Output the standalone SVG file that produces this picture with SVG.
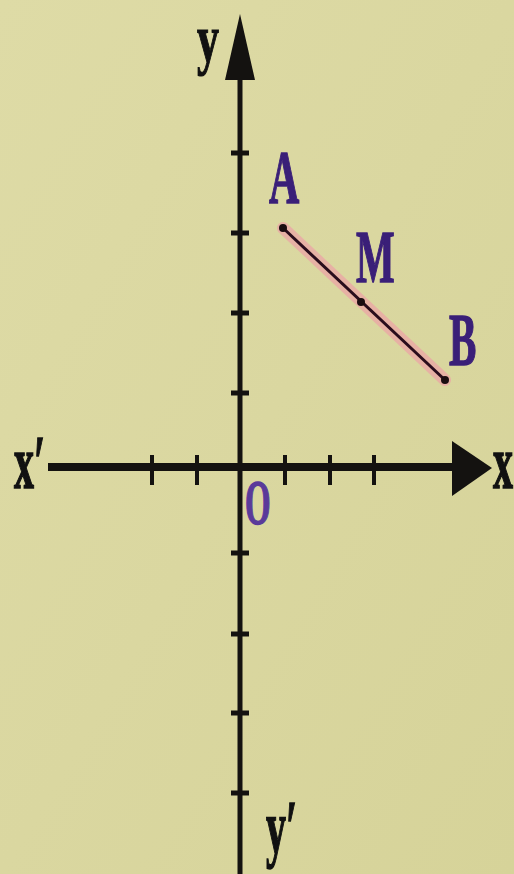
<svg xmlns="http://www.w3.org/2000/svg" width="514" height="874" viewBox="0 0 514 874">
  <defs>
    <linearGradient id="bg" x1="0" y1="0" x2="1" y2="1">
      <stop offset="0" stop-color="#dedba6"/>
      <stop offset="0.5" stop-color="#dad7a0"/>
      <stop offset="1" stop-color="#d6d399"/>
    </linearGradient>
    <style>
      .axis { stroke: #141210; fill: none; }
      .tick { stroke: #141210; stroke-width: 5; }
      .lbl { font-family: "Liberation Serif", "Times New Roman", serif; font-weight: bold; font-size: 40px; stroke-width: 0.8px; }
      .ax { fill: #111; stroke: #111; }
      .pt { fill: #3a1f78; stroke: #3a1f78; }
      .dot { fill: #1a0c10; }
    </style>
  </defs>
  <rect width="514" height="874" fill="url(#bg)"/>

  <g id="axes">
    <line class="axis" x1="48" y1="467" x2="460" y2="467" stroke-width="8"/>
    <polygon points="492,468 452,441 452,496" fill="#141210"/>
    <line class="axis" x1="240" y1="874" x2="240" y2="70" stroke-width="5"/>
    <polygon points="240,14 225,80 255,80" fill="#141210"/>
    <g id="xticks">
      <line class="tick" x1="152" y1="455" x2="152" y2="485" style="stroke-width:4"/>
      <line class="tick" x1="197" y1="455" x2="197" y2="485" style="stroke-width:4"/>
      <line class="tick" x1="285" y1="455" x2="285" y2="485" style="stroke-width:4"/>
      <line class="tick" x1="330" y1="455" x2="330" y2="485" style="stroke-width:4"/>
      <line class="tick" x1="374" y1="455" x2="374" y2="485" style="stroke-width:4"/>
    </g>
    <g id="yticks">
      <line class="tick" x1="231" y1="153" x2="249" y2="153"/>
      <line class="tick" x1="231" y1="233" x2="249" y2="233"/>
      <line class="tick" x1="231" y1="313" x2="249" y2="313"/>
      <line class="tick" x1="231" y1="393" x2="249" y2="393"/>
      <line class="tick" x1="231" y1="553" x2="249" y2="553"/>
      <line class="tick" x1="231" y1="634" x2="249" y2="634"/>
      <line class="tick" x1="231" y1="713" x2="249" y2="713"/>
      <line class="tick" x1="231" y1="793" x2="249" y2="793"/>
    </g>
  </g>

  <g id="connectors">
    <line x1="283" y1="228" x2="445" y2="380" stroke="#eba8a6" stroke-width="12" stroke-linecap="round" opacity="0.8"/>
    <line x1="283" y1="228" x2="445" y2="380" stroke="#2a0c1c" stroke-width="3"/>
  </g>

  <g id="A">
    <circle class="dot" cx="283" cy="228" r="4"/>
    <text class="lbl pt" transform="translate(269,203) scale(1,1.8)" style="font-size:42px">A</text>
  </g>
  <g id="M">
    <circle class="dot" cx="361" cy="302" r="4"/>
    <text class="lbl pt" transform="translate(356,282) scale(1,1.8)" style="font-size:41px">M</text>
  </g>
  <g id="B">
    <circle class="dot" cx="445" cy="380" r="4"/>
    <text class="lbl pt" transform="translate(449,365) scale(1,1.8)" style="font-size:41px">B</text>
  </g>
  <g id="O">
    <text class="lbl" fill="#5a3a9a" stroke="#5a3a9a" transform="translate(245,524) scale(1,1.9)" style="font-size:33px">O</text>
  </g>
  <g id="labels">
    <text class="lbl ax" transform="translate(197,62) scale(1,1.55)" style="font-size:44px">y</text>
    <text class="lbl ax" transform="translate(266,853) scale(1,1.9)">y′</text>
    <text class="lbl ax" transform="translate(14,488) scale(1,1.9)">x′</text>
    <text class="lbl ax" transform="translate(493,488) scale(1,1.9)">x</text>
  </g>
</svg>
